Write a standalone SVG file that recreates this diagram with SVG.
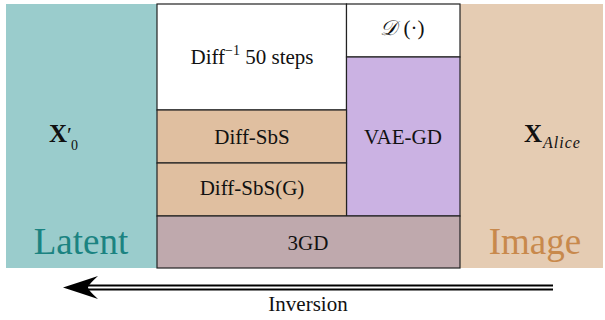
<svg xmlns="http://www.w3.org/2000/svg" width="605" height="320" viewBox="0 0 605 320">
  <style>
    .lbl { font-family: "Liberation Serif", "DejaVu Serif", serif; font-size: 21px; fill: #111; text-anchor: middle; }
    .box { stroke: #222; stroke-width: 1.2; }
    .big { font-family: "Liberation Serif", "DejaVu Serif", serif; font-size: 37px; text-anchor: middle; }
    .sym { font-family: "Liberation Serif", "DejaVu Serif", serif; fill: #111; }
  </style>

  <!-- side panels -->
  <g id="latent">
    <rect x="6" y="4" width="151" height="264" fill="#9ACCCC"/>
    <text class="sym" x="49" y="142" font-size="25" font-weight="bold">X<tspan font-weight="normal" font-size="22">′</tspan></text>
    <text class="sym" x="71" y="150" font-size="14">0</text>
    <text class="big" x="81" y="254" fill="#1B8381">Latent</text>
  </g>
  <g id="image">
    <rect x="460" y="4" width="143" height="264" fill="#E5CCB3"/>
    <text class="sym" x="524" y="142" font-size="25" font-weight="bold">X</text>
    <text class="sym" x="543" y="148" font-size="16" font-style="italic" letter-spacing="1">Alice</text>
    <text class="big" x="535" y="254" fill="#C8894C">Image</text>
  </g>

  <!-- method blocks -->
  <g id="diff-inv">
    <rect class="box" x="157" y="4" width="189.5" height="106" fill="#FFFFFF"/>
    <text class="lbl" x="252" y="64" font-size="22">Diff<tspan dy="-9" font-size="14">−1</tspan><tspan dy="9"> 50 steps</tspan></text>
  </g>
  <g id="decoder">
    <rect class="box" x="346.5" y="4" width="113.5" height="53" fill="#FFFFFF"/>
    <text class="lbl" x="388" y="35" font-size="26" font-style="italic">𝒟</text>
    <text class="lbl" x="414" y="35">(·)</text>
  </g>
  <g id="vae-gd">
    <rect class="box" x="346.5" y="57" width="113.5" height="159" fill="#CBB2E3"/>
    <text class="lbl" x="403" y="144">VAE-GD</text>
  </g>
  <g id="diff-sbs">
    <rect class="box" x="157" y="110" width="189.5" height="53" fill="#E0BFA0"/>
    <text class="lbl" x="252" y="144">Diff-SbS</text>
  </g>
  <g id="diff-sbs-g">
    <rect class="box" x="157" y="163" width="189.5" height="53" fill="#E0BFA0"/>
    <text class="lbl" x="252" y="195">Diff-SbS(G)</text>
  </g>
  <g id="gd3">
    <rect class="box" x="157" y="216" width="303" height="52" fill="#BFA9AD"/>
    <text class="lbl" x="308" y="250">3GD</text>
  </g>

  <!-- inversion arrow -->
  <g id="connectors">
    <line x1="553" y1="287.5" x2="88" y2="287.5" stroke="#000" stroke-width="6"/>
    <line x1="553" y1="287.5" x2="84" y2="287.5" stroke="#FFF" stroke-width="2"/>
    <path d="M63,287.5 Q80,282 98,276 Q88,285 88,287.5 Q88,290 98,299 Q80,293 63,287.5 Z" fill="#000"/>
    <text class="lbl" x="308" y="311">Inversion</text>
  </g>
</svg>
